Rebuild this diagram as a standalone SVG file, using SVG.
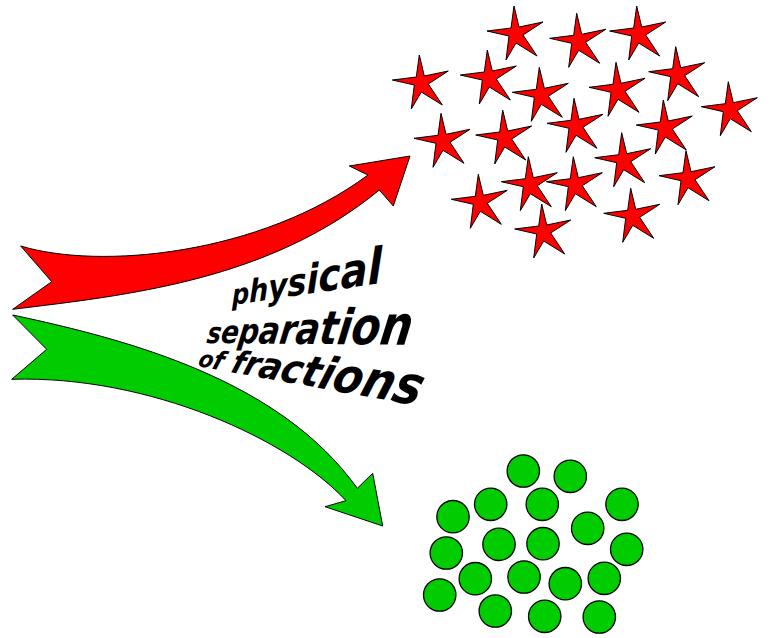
<svg xmlns="http://www.w3.org/2000/svg" xmlns:xlink="http://www.w3.org/1999/xlink" width="770" height="638" viewBox="0 0 770 638">
<style>
.arrow{stroke:#000;stroke-width:1;stroke-linejoin:miter}
.red{fill:#ff0000}
.green{fill:#00cc00}
.ball{fill:#00cc00;stroke:#000;stroke-width:1.3}
.star{fill:#ff0000;stroke:#000;stroke-width:1;stroke-linejoin:miter}
.lbl{font-family:"DejaVu Sans",sans-serif;font-weight:bold;font-style:italic;fill:#000}
</style>
<defs>
<path id="starShape" class="star" d="M -1,-28 L 4,-7 L 28,-12 L 8,1 L 22,22 L 1,9 L -9,26 L -6,2 L -28,-3 L -4,-6 Z"/>
</defs>
<rect width="770" height="638" fill="#fff"/>
<g id="connectors">
<path id="arrow-red" class="arrow red" d="M 20.7,246 C 100,270 260,255 368,175 L 349.3,166 L 410,156 L 393.3,206 L 379.3,190 C 270,280 130,295 12.7,309.3 L 51.7,281.7 Z"/>
<path id="arrow-green" class="arrow green" d="M 12.7,315 C 130,340 280,380 357.3,488.3 L 372.7,473.3 L 382.7,526 L 325,506.7 L 346,500.7 C 290,440 150,375 11.7,379.3 L 46.7,349.3 Z"/>
</g>
<g id="label">
<text class="lbl" transform="translate(232,305) rotate(-8.4) skewX(-8) scale(1,1.08)" x="0" y="0" textLength="152" lengthAdjust="spacingAndGlyphs"><tspan font-size="26">p</tspan><tspan font-size="28.9">h</tspan><tspan font-size="31.7">y</tspan><tspan font-size="34.6">s</tspan><tspan font-size="37.4">i</tspan><tspan font-size="40.3">c</tspan><tspan font-size="43.1">a</tspan><tspan font-size="46">l</tspan></text>
<text class="lbl" transform="translate(206,343) rotate(0.5) skewX(-8) scale(1,1.08)" x="0" y="0" textLength="204" lengthAdjust="spacingAndGlyphs"><tspan font-size="27">s</tspan><tspan font-size="29.7">e</tspan><tspan font-size="32.3">p</tspan><tspan font-size="35">a</tspan><tspan font-size="37.7">r</tspan><tspan font-size="40.3">a</tspan><tspan font-size="43">t</tspan><tspan font-size="45.7">i</tspan><tspan font-size="48.3">o</tspan><tspan font-size="51">n</tspan></text>
<text class="lbl" transform="translate(197,366) rotate(10.2) skewX(-8) scale(1,1.08)" x="0" y="0" textLength="224" lengthAdjust="spacingAndGlyphs"><tspan font-size="22">o</tspan><tspan font-size="24.5">f</tspan><tspan font-size="27.1"> </tspan><tspan font-size="29.6">f</tspan><tspan font-size="32.2">r</tspan><tspan font-size="34.7">a</tspan><tspan font-size="37.3">c</tspan><tspan font-size="39.8">t</tspan><tspan font-size="42.4">i</tspan><tspan font-size="44.9">o</tspan><tspan font-size="47.5">n</tspan><tspan font-size="50">s</tspan></text>
</g>
<g id="stars">
<g id="star-1"><use href="#starShape" transform="translate(515,34)"/></g>
<g id="star-2"><use href="#starShape" transform="translate(577.7,41.3)"/></g>
<g id="star-3"><use href="#starShape" transform="translate(637.7,34)"/></g>
<g id="star-4"><use href="#starShape" transform="translate(420.3,83)"/></g>
<g id="star-5"><use href="#starShape" transform="translate(488.3,78)"/></g>
<g id="star-6"><use href="#starShape" transform="translate(540.3,95.3)"/></g>
<g id="star-7"><use href="#starShape" transform="translate(617,90.3)"/></g>
<g id="star-8"><use href="#starShape" transform="translate(676.7,74.7)"/></g>
<g id="star-9"><use href="#starShape" transform="translate(729.3,109.7)"/></g>
<g id="star-10"><use href="#starShape" transform="translate(442,141.3)"/></g>
<g id="star-11"><use href="#starShape" transform="translate(503.7,138)"/></g>
<g id="star-12"><use href="#starShape" transform="translate(575,126.3)"/></g>
<g id="star-13"><use href="#starShape" transform="translate(664.3,128)"/></g>
<g id="star-14"><use href="#starShape" transform="translate(622.7,160.7)"/></g>
<g id="star-15"><use href="#starShape" transform="translate(529.3,184.7)"/></g>
<g id="star-16"><use href="#starShape" transform="translate(574.3,184.7)"/></g>
<g id="star-17"><use href="#starShape" transform="translate(687,178.7)"/></g>
<g id="star-18"><use href="#starShape" transform="translate(479.3,202.3)"/></g>
<g id="star-19"><use href="#starShape" transform="translate(631.7,216.3)"/></g>
<g id="star-20"><use href="#starShape" transform="translate(542.7,232)"/></g>
</g>
<g id="balls">
<g id="ball-1"><circle class="ball" cx="523.3" cy="471" r="16.2"/></g>
<g id="ball-2"><circle class="ball" cx="570.3" cy="476.3" r="16.2"/></g>
<g id="ball-3"><circle class="ball" cx="490.7" cy="504.3" r="16.2"/></g>
<g id="ball-4"><circle class="ball" cx="542.3" cy="504.3" r="16.2"/></g>
<g id="ball-5"><circle class="ball" cx="622" cy="504.3" r="16.2"/></g>
<g id="ball-6"><circle class="ball" cx="453" cy="516.7" r="16.2"/></g>
<g id="ball-7"><circle class="ball" cx="587.7" cy="528.3" r="16.2"/></g>
<g id="ball-8"><circle class="ball" cx="499" cy="544.3" r="16.2"/></g>
<g id="ball-9"><circle class="ball" cx="543" cy="543.7" r="16.2"/></g>
<g id="ball-10"><circle class="ball" cx="446.3" cy="553" r="16.2"/></g>
<g id="ball-11"><circle class="ball" cx="626.7" cy="549.3" r="16.2"/></g>
<g id="ball-12"><circle class="ball" cx="475.3" cy="578.7" r="16.2"/></g>
<g id="ball-13"><circle class="ball" cx="524" cy="577" r="16.2"/></g>
<g id="ball-14"><circle class="ball" cx="565.3" cy="583.7" r="16.2"/></g>
<g id="ball-15"><circle class="ball" cx="604.3" cy="578.3" r="16.2"/></g>
<g id="ball-16"><circle class="ball" cx="439.7" cy="595" r="16.2"/></g>
<g id="ball-17"><circle class="ball" cx="495.3" cy="611" r="16.2"/></g>
<g id="ball-18"><circle class="ball" cx="544.7" cy="616.3" r="16.2"/></g>
<g id="ball-19"><circle class="ball" cx="599.3" cy="617" r="16.2"/></g>
</g>
</svg>
